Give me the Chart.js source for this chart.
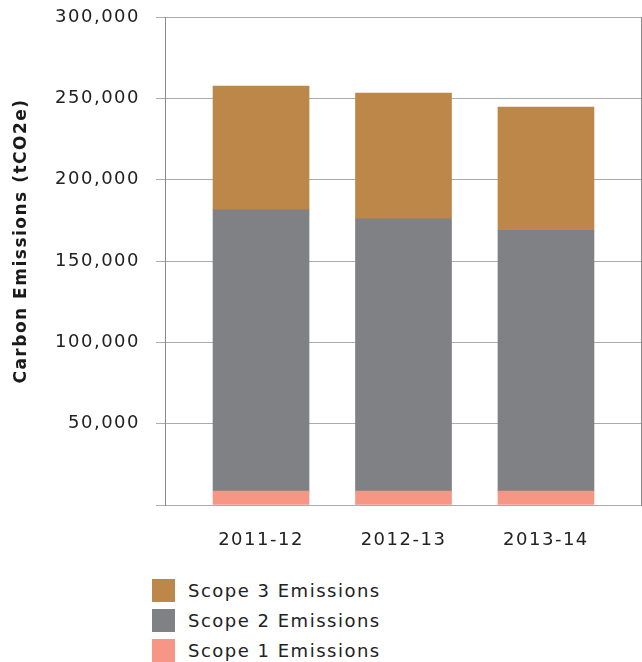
<!DOCTYPE html>
<html>
<head>
<meta charset="utf-8">
<script src="https://cdn.jsdelivr.net/npm/chart.js@4"></script>
<style>
  body { margin: 0; background: #fff; }
  #wrap { position: relative; width: 642px; height: 570px; }
  #legend { position: absolute; left: 152px; top: 575px; font: 18px 'DejaVu Sans'; letter-spacing: 1.5px; color: #222; }
  #legend .row { display: flex; align-items: center; height: 30px; }
  #legend .box { width: 23px; height: 23px; margin-right: 13px; }
</style>
</head>
<body>
<div id="wrap"><canvas id="chart"></canvas></div>
<div id="legend"></div>
<script>
// years and emissions (tCO2e)
var years = ['2011-12', '2012-13', '2013-14'];
var scope1 = [8500, 8500, 8500];
var scope2 = [173000, 167500, 160300];
var scope3 = [76100, 77200, 75800];
var yTitle = 'Carbon Emissions (tCO2e)';

var toPoints = arr => arr.map((v, i) => ({ x: i, y: v }));

Chart.defaults.font.family = 'DejaVu Sans';
Chart.defaults.color = '#222';

// wider tracking, closer to the original's geometric face
var spacing = {
  id: 'spacing',
  beforeUpdate: c => { c.ctx.letterSpacing = '1.5px'; },
  beforeDraw: c => { c.ctx.letterSpacing = '1.5px'; }
};

// y axis title, drawn where the original has it
var sideTitle = {
  id: 'sideTitle',
  afterDraw: c => {
    var ctx = c.ctx;
    ctx.save();
    ctx.translate(22, 241);
    ctx.rotate(-Math.PI / 2);
    ctx.font = 'bold 17px "DejaVu Sans"';
    ctx.fillStyle = '#1a1a1a';
    ctx.textAlign = 'center';
    ctx.textBaseline = 'middle';
    ctx.fillText(yTitle, 0, 0);
    ctx.restore();
  }
};

var chart = new Chart('chart', {
  type: 'bar',
  data: {
    datasets: [
      { label: 'Scope 1 Emissions', data: toPoints(scope1), backgroundColor: '#f69786' },
      { label: 'Scope 2 Emissions', data: toPoints(scope2), backgroundColor: '#808184' },
      { label: 'Scope 3 Emissions', data: toPoints(scope3), backgroundColor: '#bc8749' }
    ]
  },
  options: {
    maintainAspectRatio: false,
    animation: false,
    barThickness: 96,
    layout: { padding: { top: 17, right: 1, left: 0, bottom: 0 } },
    plugins: { legend: { display: false }, tooltip: { enabled: false } },
    scales: {
      x: {
        type: 'linear',
        stacked: true,
        offset: false,
        min: -0.674,
        max: 2.667,
        afterBuildTicks: s => { s.ticks = years.map((_, i) => ({ value: i })); },
        afterFit: s => { s.height = 65; },
        grid: { display: false, drawTicks: false, offset: false },
        border: { display: false },
        ticks: {
          padding: 25,
          font: { size: 18 },
          callback: v => years[v]
        }
      },
      y: {
        stacked: true,
        min: 0,
        max: 300000,
        afterFit: s => { s.width = 165; s.paddingTop = 0; },
        grid: { color: '#ababab', tickLength: 9 },
        border: { color: '#8a8a8a' },
        ticks: {
          stepSize: 50000,
          padding: 16,
          font: { size: 18 },
          callback: v => v === 0 ? '' : v.toLocaleString('en-US')
        }
      },
      y2: {
        position: 'right',
        afterFit: s => { s.paddingTop = 0; },
        grid: { display: false, drawTicks: false },
        ticks: { display: false },
        border: { display: true, color: '#8a8a8a' }
      }
    }
  },
  plugins: [spacing, sideTitle]
});

// legend listed top to bottom like the original
var legend = document.getElementById('legend');
chart.data.datasets.slice().reverse().forEach(ds => {
  var row = document.createElement('div');
  row.className = 'row';
  var box = document.createElement('div');
  box.className = 'box';
  box.style.background = ds.backgroundColor;
  var txt = document.createElement('span');
  txt.textContent = ds.label;
  row.appendChild(box);
  row.appendChild(txt);
  legend.appendChild(row);
});
</script>
</body>
</html>
